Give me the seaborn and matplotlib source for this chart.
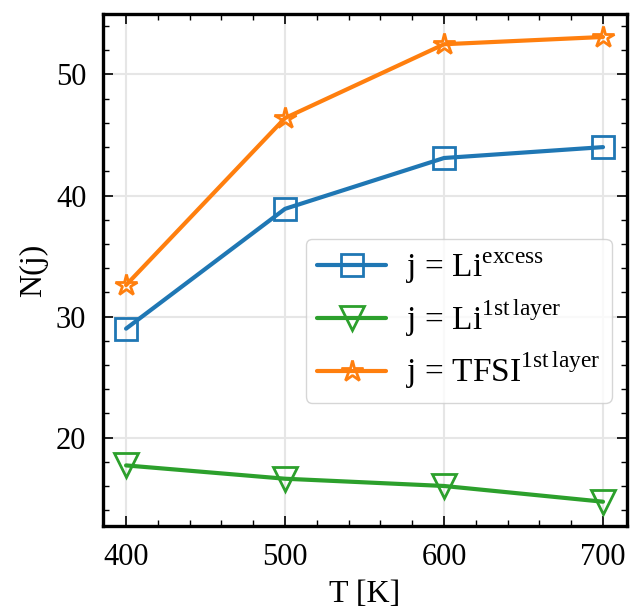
import numpy as np
import pandas as pd
import matplotlib
matplotlib.use('Agg')
import matplotlib.pyplot as plt
import seaborn as sns
from matplotlib.ticker import MultipleLocator

temps = [400, 500, 600, 700]
li_excess = [29.0, 38.9, 43.1, 44.0]
li_first = [17.7, 16.6, 16.0, 14.7]
tfsi_first = [32.6, 46.4, 52.5, 53.1]

labels = [r'j = Li$^{\mathrm{excess}}$',
          r'j = Li$^{\mathrm{1st\,layer}}$',
          r'j = TFSI$^{\mathrm{1st\,layer}}$']
colors = ['#1f77b4', '#2ca02c', '#ff7f0e']
markers = ['s', 'v', '*']
msizes = [16, 17, 16]

sns.set_style('ticks')
plt.rcParams['font.family'] = 'serif'
plt.rcParams['font.serif'] = ['Liberation Serif', 'DejaVu Serif']
plt.rcParams['mathtext.fontset'] = 'custom'
plt.rcParams['mathtext.rm'] = 'Liberation Serif'
plt.rcParams['text.color'] = 'black'
plt.rcParams['axes.labelcolor'] = 'black'
plt.rcParams['xtick.color'] = 'black'
plt.rcParams['ytick.color'] = 'black'
plt.rcParams['axes.edgecolor'] = 'black'

fig = plt.figure(figsize=(6.3, 6.08), dpi=100)
ax = fig.add_axes([0.1635, 0.135, 0.8315, 0.842])

series = [li_excess, li_first, tfsi_first]
for vals, lab, c, m, ms in zip(series, labels, colors, markers, msizes):
    df = pd.DataFrame({'T': temps, 'N': vals})
    sns.lineplot(data=df, x='T', y='N', ax=ax, color=c, linewidth=3.0,
                 marker=m, markersize=ms, markerfacecolor='none',
                 markeredgecolor=c, markeredgewidth=2.0, label=lab)

ax.set_xlim(385.5, 715)
ax.set_ylim(12.7, 55.0)
ax.xaxis.set_major_locator(MultipleLocator(100))
ax.xaxis.set_minor_locator(MultipleLocator(20))
ax.yaxis.set_major_locator(MultipleLocator(10))
ax.yaxis.set_minor_locator(MultipleLocator(2))
ax.tick_params(which='both', direction='in', top=True, right=True,
               labelsize=22, pad=12)
ax.tick_params(which='major', length=7, width=1.2)
ax.tick_params(which='minor', length=4, width=1.0)
for s in ax.spines.values():
    s.set_linewidth(2.4)
ax.grid(True, which='major', color='#e6e6e6', linewidth=1.5)

ax.set_xlabel('T [K]', fontsize=23, labelpad=6)
ax.set_ylabel('N(j)', fontsize=23, labelpad=6)

leg = ax.legend(loc='lower right', bbox_to_anchor=(0.971, 0.24),
                borderaxespad=0, fontsize=24, handlelength=2.05,
                handletextpad=0.6, frameon=True, fancybox=True,
                framealpha=0.8, edgecolor='#cccccc', borderpad=0.35,
                labelspacing=0.35)

fig.savefig('out.png', dpi=100)
